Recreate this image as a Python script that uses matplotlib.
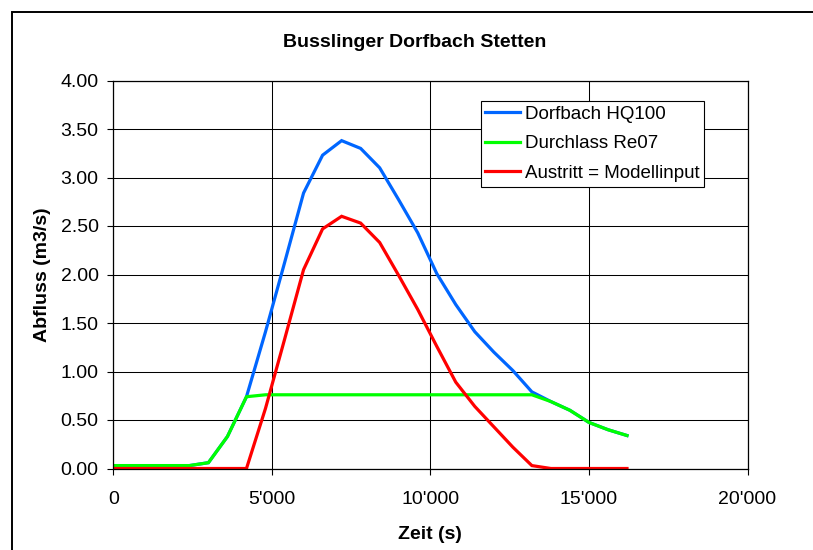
import matplotlib
matplotlib.use("Agg")
import matplotlib.pyplot as plt
from matplotlib.patches import Rectangle
from matplotlib.ticker import FuncFormatter, MultipleLocator

plt.rcParams['font.family'] = ['Liberation Sans', 'DejaVu Sans']

# time steps (s)
zeit = [i * 600 for i in range(28)]

dorfbach_hq100 = [0.03, 0.03, 0.03, 0.03, 0.03, 0.06, 0.33, 0.74, 1.41, 2.12,
                  2.84, 3.23, 3.38, 3.30, 3.10, 2.77, 2.43, 2.01, 1.69, 1.41,
                  1.20, 1.01, 0.79, 0.69, 0.60, 0.475, 0.40, 0.34]
durchlass_re07 = [0.03, 0.03, 0.03, 0.03, 0.03, 0.06, 0.33, 0.74, 0.76, 0.76,
                  0.76, 0.76, 0.76, 0.76, 0.76, 0.76, 0.76, 0.76, 0.76, 0.76,
                  0.76, 0.76, 0.76, 0.69, 0.60, 0.475, 0.40, 0.34]
austritt = [0.0, 0.0, 0.0, 0.0, 0.0, 0.0, 0.0, 0.0, 0.62, 1.33,
            2.05, 2.47, 2.60, 2.53, 2.33, 1.99, 1.64, 1.26, 0.89, 0.64,
            0.43, 0.22, 0.03, 0.0, 0.0, 0.0, 0.0, 0.0]

W, H = 813, 550
fig = plt.figure(figsize=(W / 100, H / 100), dpi=100)
ax = fig.add_axes([113.3 / W, 1 - 468.5 / H, (747.5 - 113.3) / W, (468.5 - 80.5) / H])

# outer chart frame (runs off the right and bottom edge)
fig.patches.append(Rectangle((11.5 / W, -0.1), 1.2, 1.1 - 11.5 / H, transform=fig.transFigure,
                             fill=False, edgecolor='black', linewidth=1.4))

ax.plot(zeit, dorfbach_hq100, color='#0066ff', lw=2.3, label='Dorfbach HQ100', solid_joinstyle='miter')
ax.plot(zeit, durchlass_re07, color='#00ff00', lw=2.3, label='Durchlass Re07', solid_joinstyle='miter')
ax.plot(zeit, austritt, color='#ff0000', lw=2.3, label='Austritt = Modellinput', solid_joinstyle='miter')

ax.set_xlim(0, 20000)
ax.set_ylim(0, 4)
ax.xaxis.set_major_locator(MultipleLocator(5000))
ax.yaxis.set_major_locator(MultipleLocator(0.5))
ax.xaxis.set_major_formatter(FuncFormatter(lambda v, p: "{:,.0f}".format(v).replace(",", "'")))
ax.yaxis.set_major_formatter(FuncFormatter(lambda v, p: "%.2f" % v))
ax.grid(True, color='black', lw=0.75)
ax.set_axisbelow(True)
for s in ax.spines.values():
    s.set_linewidth(0.9)
ax.tick_params(direction='out', length=4.5, width=0.8, labelsize=14, color='black')
ax.tick_params(axis='y', pad=6)
ax.tick_params(axis='x', pad=11.5)

ax.set_xlabel("Zeit (s)", fontsize=14, fontweight='bold')
ax.set_ylabel("Abfluss (m3/s)", fontsize=14, fontweight='bold')
ax.xaxis.set_label_coords(0.5, -0.148)
ax.yaxis.set_label_coords(-0.098, 0.5)

fig.text(414.5 / W, 1 - 46.7 / H, "Busslinger Dorfbach Stetten", fontsize=14, fontweight='bold',
         ha='center', va='baseline')

leg = ax.legend(loc='upper left', bbox_to_anchor=(480.7 / W, 1 - 101 / H), bbox_transform=fig.transFigure,
                fontsize=13.5, frameon=True, fancybox=False, framealpha=1, edgecolor='black',
                borderaxespad=0, borderpad=0.25, handlelength=1.85, handletextpad=0.25, labelspacing=0.66)
leg.get_frame().set_linewidth(0.8)

fig.savefig("out.png", dpi=100)
